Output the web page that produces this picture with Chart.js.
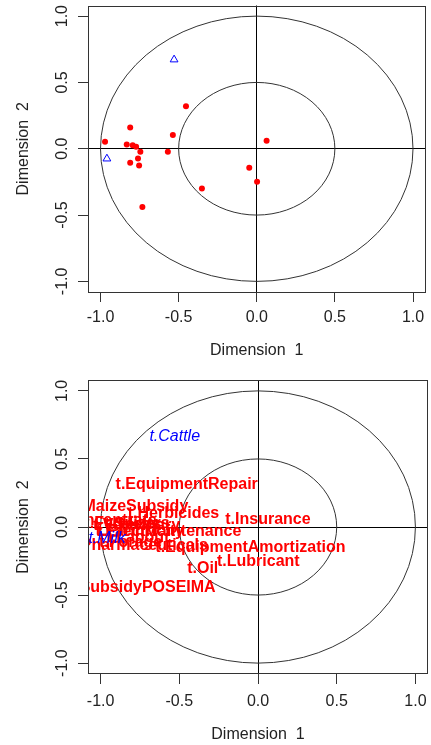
<!DOCTYPE html>
<html>
<head>
<meta charset="utf-8">
<script src="https://cdn.jsdelivr.net/npm/chart.js@4"></script>
<style>
html,body{margin:0;padding:0;background:#fff;}
#wrap{position:relative;width:431px;height:745px;overflow:hidden;background:#fff;}
canvas{position:absolute;left:0;}
</style>
</head>
<body>
<div id="wrap">
<canvas id="topChart" width="431" height="370" style="top:0px"></canvas>
<canvas id="bottomChart" width="431" height="375" style="top:370px"></canvas>
</div>
<script>
// ---- data ----
const tickValues = [-1, -0.5, 0, 0.5, 1];
const axisRange = [-1.08, 1.08];
const circleCenter = [0, 0];
const circleRadii = [1, 0.5];

const activeNames = ['t.Concentrate', 't.MaizeSubsidy', 't.Fertilizers', 't.Seeds', 't.Veterinary',
  't.Electricity', 't.Labour', 't.Forage', 't.Pharmaceuticals', 't.SubsidyPOSEIMA',
  't.FarmMaintenance', 't.Herbicides', 't.EquipmentRepair', 't.Oil',
  't.EquipmentAmortization', 't.Lubricant', 't.Insurance'];
const activeDim1 = [-0.971, -0.810, -0.832, -0.794, -0.772, -0.745, -0.760, -0.810, -0.753, -0.732,
  -0.569, -0.537, -0.453, -0.351, -0.048, 0.002, 0.063];
const activeDim2 = [0.053, 0.160, 0.032, 0.027, 0.015, -0.023, -0.073, -0.106, -0.126, -0.440,
  -0.023, 0.103, 0.321, -0.299, -0.143, -0.249, 0.060];

const suppNames = ['t.Cattle', 't.Milk'];
const suppDim1 = [-0.529, -0.959];
const suppDim2 = [0.672, -0.075];

const xTitle = 'Dimension  1';
const yTitle = 'Dimension  2';

// ---- styling ----
const FONT = "'Liberation Sans', Arial, sans-serif";
const TEXT_COLOR = '#222';

function pts(xs, ys) { return xs.map((x, i) => ({x: x, y: ys[i]})); }

const decorPlugin = {
  id: 'decor',
  beforeDatasetsDraw(chart) {
    const {ctx, chartArea: a, scales: {x, y}} = chart;
    ctx.save();
    ctx.beginPath();
    ctx.rect(a.left, a.top, a.right - a.left, a.bottom - a.top);
    ctx.clip();
    ctx.strokeStyle = '#333';
    ctx.lineWidth = 1;
    const cx = x.getPixelForValue(circleCenter[0]);
    const cy = y.getPixelForValue(circleCenter[1]);
    circleRadii.forEach(r => {
      const rx = x.getPixelForValue(circleCenter[0] + r) - cx;
      const ry = cy - y.getPixelForValue(circleCenter[1] + r);
      ctx.beginPath();
      ctx.ellipse(cx, cy, rx, ry, 0, 0, Math.PI * 2);
      ctx.stroke();
    });
    ctx.restore();
  },
  afterDraw(chart) {
    const {ctx, chartArea: a} = chart;
    ctx.save();
    ctx.strokeStyle = '#333';
    ctx.lineWidth = 1;
    ctx.strokeRect(Math.round(a.left) + 0.5, Math.round(a.top) + 0.5,
      Math.round(a.right - a.left) - 1, Math.round(a.bottom - a.top) - 1);
    ctx.restore();
  }
};

const labelPlugin = {
  id: 'pointLabels',
  afterDatasetsDraw(chart) {
    const {ctx, chartArea: a} = chart;
    ctx.save();
    ctx.beginPath();
    ctx.rect(a.left, a.top, a.right - a.left, a.bottom - a.top);
    ctx.clip();
    chart.data.datasets.forEach((ds, di) => {
      if (!ds.labelNames) return;
      const meta = chart.getDatasetMeta(di);
      ctx.font = ds.labelFont;
      ctx.fillStyle = ds.labelColor;
      ctx.textAlign = 'center';
      ctx.textBaseline = 'middle';
      meta.data.forEach((el, i) => {
        ctx.fillText(ds.labelNames[i], el.x, el.y + 1);
      });
    });
    ctx.restore();
  }
};

function scaleOpts(isX, p) {
  return {
    type: 'linear',
    position: isX ? 'bottom' : 'left',
    min: axisRange[0],
    max: axisRange[1],
    afterBuildTicks: s => { s.ticks = tickValues.map(v => ({value: v})); },
    afterFit: s => {
      if (isX) s.height = p.xAxisH; else s.width = p.yAxisW;
      s.paddingTop = 0; s.paddingBottom = 0; s.paddingLeft = 0; s.paddingRight = 0;
    },
    border: {display: false},
    grid: {
      drawOnChartArea: true,
      drawTicks: true,
      tickLength: 10,
      lineWidth: 1,
      color: c => (c.tick && c.tick.value === 0) ? '#000' : 'rgba(0,0,0,0)',
      tickColor: '#333',
      tickWidth: 1
    },
    ticks: {
      autoSkip: false,
      color: TEXT_COLOR,
      font: {family: FONT, size: 16},
      padding: isX ? p.xTickPad : 2,
      minRotation: isX ? 0 : 90,
      maxRotation: isX ? 0 : 90,
      crossAlign: isX ? 'near' : 'center',
      callback: v => Number(v).toFixed(1)
    },
    title: {
      display: true,
      text: isX ? xTitle : yTitle,
      color: TEXT_COLOR,
      font: {family: FONT, size: 16},
      padding: isX ? {top: 0, bottom: p.xTitlePad} : {top: 14, bottom: 0}
    }
  };
}

function baseOptions(p) {
  return {
    responsive: false,
    animation: false,
    events: [],
    layout: {padding: {top: p.padTop, right: p.padRight, left: 0, bottom: 0}},
    plugins: {legend: {display: false}, tooltip: {enabled: false}},
    scales: {x: scaleOpts(true, p), y: scaleOpts(false, p)}
  };
}

// ---- top chart: points ----
new Chart(document.getElementById('topChart'), {
  type: 'scatter',
  data: {
    datasets: [
      {
        data: pts(activeDim1, activeDim2),
        pointStyle: 'circle',
        pointRadius: 3,
        pointBorderWidth: 0,
        backgroundColor: '#ff0000',
        borderColor: '#ff0000'
      },
      {
        data: pts(suppDim1, suppDim2),
        pointStyle: 'triangle',
        pointRadius: 4.5,
        pointBorderWidth: 1,
        backgroundColor: 'rgba(0,0,0,0)',
        borderColor: '#0000ff'
      }
    ]
  },
  options: baseOptions({padTop: 4, padRight: 2, xAxisH: 78, yAxisW: 88, xTickPad: 6, xTitlePad: 10}),
  plugins: [decorPlugin]
});

// ---- bottom chart: labels ----
new Chart(document.getElementById('bottomChart'), {
  type: 'scatter',
  data: {
    datasets: [
      {
        data: pts(activeDim1, activeDim2),
        pointRadius: 0,
        labelNames: activeNames,
        labelFont: "bold 16px " + FONT,
        labelColor: '#ff0000'
      },
      {
        data: pts(suppDim1, suppDim2),
        pointRadius: 0,
        labelNames: suppNames,
        labelFont: "italic 16px " + FONT,
        labelColor: '#0000ff'
      }
    ]
  },
  options: baseOptions({padTop: 10, padRight: 3, xAxisH: 71, yAxisW: 88, xTickPad: 8, xTitlePad: 1}),
  plugins: [decorPlugin, labelPlugin]
});
</script>
</body>
</html>
